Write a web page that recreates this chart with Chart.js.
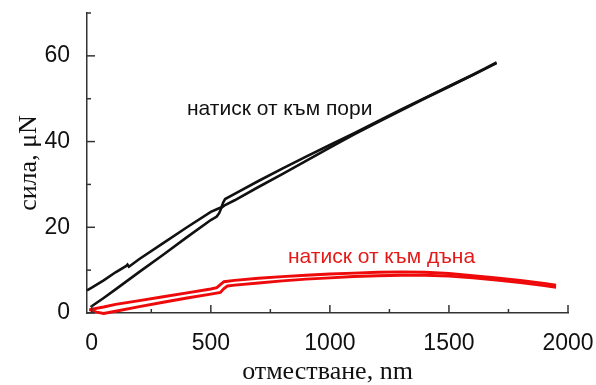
<!DOCTYPE html>
<html>
<head>
<meta charset="utf-8">
<script src="https://cdn.jsdelivr.net/npm/chart.js@4/dist/chart.umd.min.js"></script>
<style>
  html, body { margin: 0; padding: 0; background: #fff; }
  #wrap { width: 596px; height: 385px; }
</style>
</head>
<body>
<div id="wrap"><canvas id="forceChart"></canvas></div>
<script>
// pores indentation: two branches (nm, µN)
const poreUpX = [-20, 0, 50, 100, 145, 150, 156, 200, 300, 400, 500, 525, 545, 552, 560, 600, 700, 800, 900, 1000, 1100, 1200, 1300, 1400, 1500, 1600, 1650, 1700];
const poreUpY = [5.3, 5.9, 7.6, 9.5, 11.0, 11.3, 10.8, 12.6, 16.3, 20.0, 23.6, 24.2, 24.7, 25.8, 26.6, 27.8, 30.8, 33.7, 36.5, 39.2, 41.9, 44.7, 47.5, 50.2, 52.9, 55.6, 57.0, 58.5];
const poreDownX = [-5, 50, 100, 200, 300, 400, 500, 525, 535, 545, 560, 600, 700, 800, 900, 1000, 1100, 1200, 1300, 1400, 1500, 1600, 1650, 1700];
const poreDownY = [1.4, 3.5, 5.5, 9.6, 13.6, 17.7, 21.7, 22.5, 23.3, 24.6, 25.2, 26.3, 29.4, 32.4, 35.5, 38.6, 41.6, 44.5, 47.3, 50.1, 52.8, 55.5, 56.9, 58.3];

// bottom indentation: two branches (nm, µN)
const bottomUpX = [-10, 50, 100, 200, 300, 400, 500, 525, 540, 555, 600, 700, 800, 900, 1000, 1100, 1200, 1300, 1400, 1500, 1600, 1700, 1800, 1900, 1950];
const bottomUpY = [0.8, 1.4, 2.0, 2.9, 3.8, 4.7, 5.6, 5.9, 6.6, 7.3, 7.6, 8.1, 8.5, 8.8, 9.1, 9.3, 9.5, 9.6, 9.5, 9.2, 8.7, 8.2, 7.6, 6.9, 6.5];
const bottomDownX = [-10, 20, 50, 100, 200, 300, 400, 500, 540, 555, 570, 600, 700, 800, 900, 1000, 1100, 1200, 1300, 1400, 1500, 1600, 1700, 1800, 1900, 1950];
const bottomDownY = [0.8, 0.2, -0.1, 0.4, 1.5, 2.5, 3.5, 4.4, 4.8, 5.7, 6.3, 6.5, 7.0, 7.5, 7.9, 8.2, 8.5, 8.7, 8.8, 8.8, 8.6, 8.2, 7.7, 7.1, 6.4, 6.0];

const xTickValues = [0, 250, 500, 750, 1000, 1250, 1500, 1750, 2000];
const xTickLabels = [0, 500, 1000, 1500, 2000];
const yTickValues = [0, 10, 20, 30, 40, 50, 60, 70];
const yTickLabels = [0, 20, 40, 60];

const curveNotes = [
  { text: "натиск от към пори", x: 400, y: 46.2, color: "#111" },
  { text: "натиск от към дъна", x: 824, y: 11.7, color: "#e41a1a" }
];

function toPoints(xs, ys) {
  return xs.map((x, i) => ({ x: x, y: ys[i] }));
}

function curve(xs, ys, color, width) {
  return {
    data: toPoints(xs, ys),
    borderColor: color,
    borderWidth: width,
    pointRadius: 0,
    tension: 0,
    clip: 4
  };
}

// axis ticks pointing into the plot, long for labelled values
const inwardTicks = {
  id: "inwardTicks",
  afterDraw(chart) {
    const ctx = chart.ctx;
    const xs = chart.scales.x;
    const ys = chart.scales.y;
    ctx.save();
    ctx.strokeStyle = "#333";
    ctx.lineWidth = 1.5;
    xs.ticks.forEach(t => {
      const px = xs.getPixelForValue(t.value);
      const len = xTickLabels.includes(t.value) ? 8 : 4;
      ctx.beginPath();
      ctx.moveTo(px, ys.bottom);
      ctx.lineTo(px, ys.bottom - len);
      ctx.stroke();
    });
    ys.ticks.forEach(t => {
      const py = ys.getPixelForValue(t.value);
      const len = yTickLabels.includes(t.value) ? 8 : 4;
      ctx.beginPath();
      ctx.moveTo(xs.left, py);
      ctx.lineTo(xs.left + len, py);
      ctx.stroke();
    });

    ctx.font = "21px 'Liberation Sans', Arial, sans-serif";
    ctx.textAlign = "left";
    ctx.textBaseline = "alphabetic";
    curveNotes.forEach(n => {
      ctx.fillStyle = n.color;
      ctx.fillText(n.text, xs.getPixelForValue(n.x), ys.getPixelForValue(n.y));
    });
    ctx.restore();
  }
};

new Chart(document.getElementById("forceChart"), {
  type: "line",
  data: {
    datasets: [
      curve(poreUpX, poreUpY, "#111", 2.6),
      curve(poreDownX, poreDownY, "#111", 2.6),
      curve(bottomUpX, bottomUpY, "#ee0a0a", 2.9),
      curve(bottomDownX, bottomDownY, "#ee0a0a", 2.9)
    ]
  },
  options: {
    responsive: true,
    maintainAspectRatio: false,
    animation: false,
    events: [],
    layout: { padding: { top: 13, right: 28, left: 0, bottom: 0 } },
    plugins: {
      legend: { display: false },
      tooltip: { enabled: false }
    },
    scales: {
      x: {
        type: "linear",
        min: -20,
        max: 2000,
        afterBuildTicks: s => { s.ticks = xTickValues.map(v => ({ value: v })); },
        afterFit: s => { s.height = 72; s.paddingLeft = 0; s.paddingRight = 0; },
        border: { display: true, color: "#333", width: 1.5 },
        grid: { display: true, drawOnChartArea: false, drawTicks: false },
        ticks: {
          autoSkip: false,
          maxRotation: 0,
          padding: 17,
          color: "#111",
          font: { family: "'Liberation Sans', Arial, sans-serif", size: 23 },
          callback: v => xTickLabels.includes(v) ? String(v) : ""
        },
        title: {
          display: true,
          text: "отместване, nm",
          color: "#111",
          padding: { top: 0, bottom: 0 },
          font: { family: "'Liberation Serif', 'Times New Roman', serif", size: 26, lineHeight: 1 }
        }
      },
      y: {
        min: 0,
        max: 70,
        afterBuildTicks: s => { s.ticks = yTickValues.map(v => ({ value: v })); },
        afterFit: s => { s.width = 87; s.paddingTop = 0; s.paddingBottom = 0; },
        border: { display: true, color: "#333", width: 1.5 },
        grid: { display: true, drawOnChartArea: false, drawTicks: false },
        ticks: {
          autoSkip: false,
          padding: 17,
          color: "#111",
          font: { family: "'Liberation Sans', Arial, sans-serif", size: 23 },
          callback: v => yTickLabels.includes(v) ? String(v) : ""
        },
        title: {
          display: true,
          text: "сила, μN",
          color: "#111",
          padding: { top: 16, bottom: 0 },
          font: { family: "'Liberation Serif', 'Times New Roman', serif", size: 26, lineHeight: 1 }
        }
      }
    }
  },
  plugins: [inwardTicks]
});
</script>
</body>
</html>
